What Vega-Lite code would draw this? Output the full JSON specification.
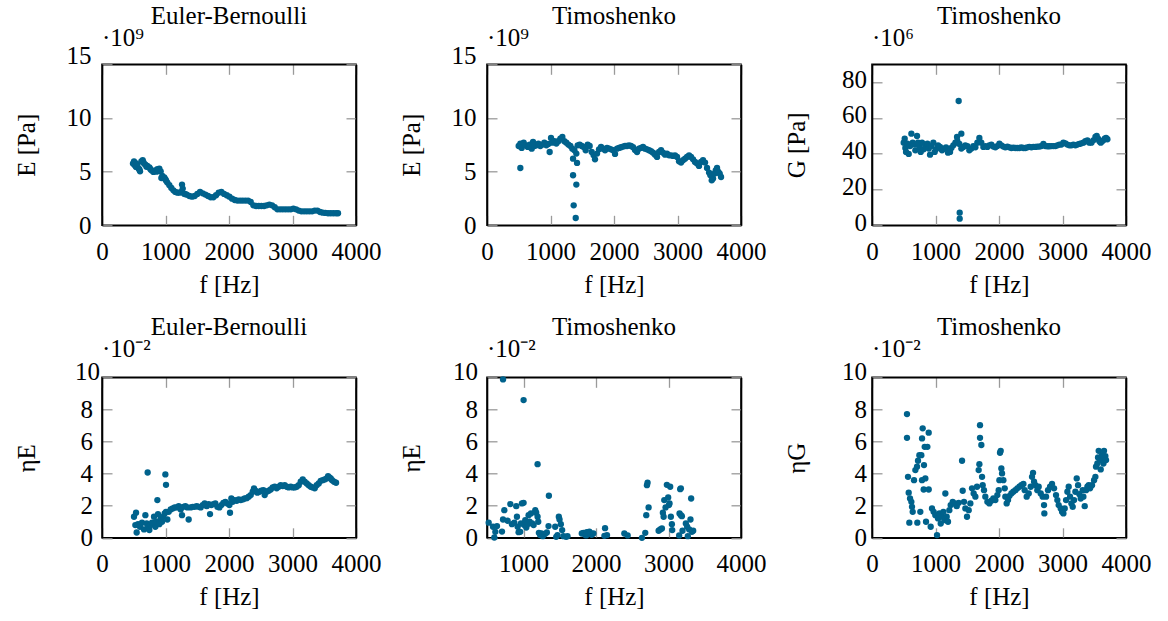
{
  "$schema": "https://vega.github.io/schema/vega-lite/v6.json",
  "padding": {"left": 13, "top": 3.3, "right": 5, "bottom": 5},
  "background": "white",
  "config": {
    "font": "Liberation Serif",
    "view": {"stroke": "#000000", "strokeWidth": 1.6, "strokeOpacity": 1},
    "axis": {
      "grid": false, "domain": true, "domainColor": "#000000", "domainWidth": 1.6, "domainOpacity": 1,
      "tickColor": "#9a9a9a", "tickWidth": 1.3, "tickSize": -10,
      "labelFont": "Liberation Serif", "titleFont": "Liberation Serif",
      "labelFontSize": 25, "titleFontSize": 25,
      "labelColor": "black", "titleColor": "black", "titleFontWeight": "normal",
      "labelFlush": false, "labelOverlap": false, "format": "d"
    },
    "axisX": {"labelBaseline": "alphabetic", "labelPadding": 44, "titleX": 127, "titleY": 67, "titleBaseline": "alphabetic", "titleAngle": 0},
    "axisY": {"labelPadding": 21, "titleX": -67.7, "titleY": 80.5, "titleBaseline": "alphabetic", "titleAngle": -90, "titleAlign": "center"},
    "title": {"fontSize": 25, "font": "Liberation Serif", "fontWeight": "normal", "anchor": "middle", "frame": "group", "offset": -3, "color": "black"},
    "circle": {"size": 40, "opacity": 1, "color": "#00628c"}
  },
  "datasets": {
    "ebE": [
      {"f":488,"E":5.75},{"f":504,"E":5.96},{"f":515,"E":5.59},{"f":530,"E":5.8},{"f":536,"E":5.44},{"f":557,"E":5.65},{"f":578,"E":5.28},{"f":590,"E":5.2},{"f":599,"E":5.03},{"f":620,"E":5.96},{"f":641,"E":6.06},{"f":650,"E":5.9},{"f":662,"E":5.75},{"f":683,"E":5.65},{"f":700,"E":5.45},{"f":714,"E":5.53},{"f":746,"E":5.40},{"f":760,"E":5.25},{"f":777,"E":5.12},{"f":809,"E":4.97},{"f":840,"E":5.12},{"f":860,"E":5.0},{"f":872,"E":5.22},{"f":890,"E":5.15},{"f":903,"E":5.28},{"f":924,"E":5.03},{"f":935,"E":4.41},{"f":950,"E":4.6},{"f":966,"E":4.41},{"f":980,"E":4.45},{"f":998,"E":4.29},{"f":1010,"E":4.15},{"f":1029,"E":3.98},{"f":1061,"E":3.73},{"f":1092,"E":3.48},{"f":1124,"E":3.26},{"f":1155,"E":3.11},{"f":1187,"E":3.04},{"f":1218,"E":3.04},{"f":1250,"E":3.11},{"f":1260,"E":3.79},{"f":1271,"E":3.42},{"f":1292,"E":2.95},{"f":1313,"E":2.9},{"f":1334,"E":2.86},{"f":1376,"E":2.73},{"f":1418,"E":2.67},{"f":1460,"E":2.73},{"f":1502,"E":2.92},{"f":1544,"E":3.11},{"f":1586,"E":2.98},{"f":1628,"E":2.86},{"f":1670,"E":2.73},{"f":1712,"E":2.61},{"f":1754,"E":2.61},{"f":1796,"E":2.80},{"f":1838,"E":3.04},{"f":1880,"E":3.11},{"f":1922,"E":2.92},{"f":1964,"E":2.80},{"f":2006,"E":2.67},{"f":2048,"E":2.48},{"f":2090,"E":2.36},{"f":2132,"E":2.30},{"f":2174,"E":2.30},{"f":2216,"E":2.30},{"f":2258,"E":2.30},{"f":2300,"E":2.30},{"f":2342,"E":2.17},{"f":2384,"E":1.86},{"f":2426,"E":1.80},{"f":2468,"E":1.80},{"f":2510,"E":1.80},{"f":2552,"E":1.80},{"f":2594,"E":1.86},{"f":2636,"E":1.93},{"f":2678,"E":1.86},{"f":2720,"E":1.68},{"f":2762,"E":1.49},{"f":2804,"E":1.49},{"f":2846,"E":1.49},{"f":2888,"E":1.49},{"f":2930,"E":1.49},{"f":2972,"E":1.49},{"f":3014,"E":1.55},{"f":3056,"E":1.49},{"f":3098,"E":1.37},{"f":3140,"E":1.30},{"f":3182,"E":1.30},{"f":3224,"E":1.30},{"f":3266,"E":1.30},{"f":3308,"E":1.30},{"f":3350,"E":1.37},{"f":3392,"E":1.37},{"f":3434,"E":1.24},{"f":3476,"E":1.18},{"f":3518,"E":1.15},{"f":3560,"E":1.12},{"f":3602,"E":1.12},{"f":3644,"E":1.12},{"f":3686,"E":1.12},{"f":3717,"E":1.12}
    ],
    "tiE": [
      {"f":525,"E":5.34},{"f":1355,"E":6.21},{"f":1418,"E":5.81},{"f":1355,"E":4.66},{"f":1407,"E":3.79},{"f":1365,"E":1.86},{"f":1397,"E":0.68},
      {"f":499,"E":7.39},{"f":525,"E":7.61},{"f":546,"E":7.21},{"f":578,"E":7.70},{"f":609,"E":7.45},{"f":641,"E":7.30},{"f":672,"E":7.52},{"f":704,"E":7.14},{"f":725,"E":7.77},{"f":746,"E":7.39},{"f":777,"E":7.45},{"f":809,"E":7.61},{"f":840,"E":7.39},{"f":872,"E":7.52},{"f":903,"E":7.70},{"f":935,"E":7.45},{"f":966,"E":7.58},{"f":987,"E":6.83},{"f":1008,"E":8.14},{"f":1029,"E":7.70},{"f":1061,"E":7.83},{"f":1092,"E":7.61},{"f":1124,"E":7.83},{"f":1155,"E":8.08},{"f":1187,"E":8.23},{"f":1218,"E":7.83},{"f":1250,"E":7.70},{"f":1281,"E":7.52},{"f":1313,"E":7.39},{"f":1344,"E":7.14},{"f":1376,"E":6.99},{"f":1407,"E":6.68},{"f":1428,"E":7.45},{"f":1460,"E":7.52},{"f":1491,"E":7.39},{"f":1523,"E":7.30},{"f":1554,"E":6.99},{"f":1586,"E":7.52},{"f":1617,"E":7.39},{"f":1649,"E":6.83},{"f":1680,"E":6.52},{"f":1701,"E":6.15},{"f":1733,"E":6.68},{"f":1764,"E":7.08},{"f":1796,"E":7.30},{"f":1827,"E":7.14},{"f":1859,"E":6.99},{"f":1890,"E":7.21},{"f":1922,"E":7.14},{"f":1953,"E":7.08},{"f":1985,"E":6.99},{"f":2016,"E":6.65},{"f":2048,"E":7.14},{"f":2079,"E":7.21},{"f":2111,"E":7.27},{"f":2142,"E":7.33},{"f":2174,"E":7.39},{"f":2205,"E":7.39},{"f":2237,"E":7.45},{"f":2268,"E":7.39},{"f":2300,"E":7.27},{"f":2331,"E":7.02},{"f":2363,"E":6.83},{"f":2394,"E":7.14},{"f":2426,"E":7.21},{"f":2457,"E":7.30},{"f":2489,"E":7.14},{"f":2520,"E":7.08},{"f":2552,"E":6.99},{"f":2583,"E":6.90},{"f":2615,"E":6.77},{"f":2646,"E":6.58},{"f":2678,"E":6.37},{"f":2709,"E":6.83},{"f":2741,"E":6.99},{"f":2772,"E":6.77},{"f":2804,"E":6.58},{"f":2835,"E":6.68},{"f":2867,"E":6.52},{"f":2898,"E":6.52},{"f":2930,"E":6.46},{"f":2961,"E":6.52},{"f":2993,"E":6.37},{"f":3024,"E":5.96},{"f":3056,"E":5.84},{"f":3087,"E":6.06},{"f":3119,"E":6.21},{"f":3150,"E":6.37},{"f":3182,"E":6.52},{"f":3213,"E":6.37},{"f":3245,"E":6.15},{"f":3276,"E":5.90},{"f":3308,"E":5.75},{"f":3339,"E":5.53},{"f":3371,"E":5.90},{"f":3402,"E":6.06},{"f":3434,"E":5.84},{"f":3465,"E":5.34},{"f":3497,"E":4.91},{"f":3518,"E":4.66},{"f":3539,"E":4.19},{"f":3560,"E":4.35},{"f":3581,"E":4.81},{"f":3602,"E":5.12},{"f":3623,"E":5.34},{"f":3644,"E":4.97},{"f":3665,"E":4.81},{"f":3686,"E":4.50}
    ],
    "tiG": [
      {"f":1365,"G":69.5},{"f":1407,"G":51.2},{"f":1339,"G":49.4},{"f":1381,"G":7.08},{"f":1381,"G":3.73},
      {"f":499,"G":46.2},{"f":515,"G":48.4},{"f":525,"G":43.2},{"f":536,"G":41.0},{"f":557,"G":45.7},{"f":578,"G":39.9},{"f":599,"G":44.3},{"f":620,"G":51.2},{"f":641,"G":46.2},{"f":672,"G":45.1},{"f":683,"G":41.9},{"f":709,"G":49.9},{"f":725,"G":46.2},{"f":746,"G":43.8},{"f":767,"G":41.0},{"f":788,"G":46.2},{"f":814,"G":42.5},{"f":840,"G":44.7},{"f":872,"G":45.7},{"f":893,"G":42.9},{"f":914,"G":39.5},{"f":935,"G":44.3},{"f":966,"G":46.2},{"f":987,"G":41.0},{"f":1008,"G":42.5},{"f":1040,"G":44.7},{"f":1071,"G":43.8},{"f":1103,"G":41.9},{"f":1134,"G":42.9},{"f":1166,"G":43.6},{"f":1197,"G":40.6},{"f":1229,"G":41.0},{"f":1250,"G":43.2},{"f":1281,"G":44.7},{"f":1313,"G":46.2},{"f":1344,"G":47.0},{"f":1376,"G":45.5},{"f":1407,"G":42.9},{"f":1439,"G":43.8},{"f":1470,"G":44.7},{"f":1502,"G":44.3},{"f":1533,"G":41.9},{"f":1565,"G":42.9},{"f":1596,"G":44.3},{"f":1628,"G":43.6},{"f":1659,"G":46.2},{"f":1691,"G":48.8},{"f":1722,"G":46.2},{"f":1754,"G":43.8},{"f":1785,"G":44.3},{"f":1817,"G":43.8},{"f":1848,"G":44.7},{"f":1880,"G":45.1},{"f":1911,"G":44.0},{"f":1943,"G":43.6},{"f":1974,"G":44.3},{"f":2006,"G":45.7},{"f":2037,"G":44.7},{"f":2069,"G":44.0},{"f":2100,"G":43.6},{"f":2132,"G":44.0},{"f":2163,"G":43.6},{"f":2195,"G":43.2},{"f":2226,"G":43.4},{"f":2258,"G":43.2},{"f":2289,"G":43.2},{"f":2321,"G":43.2},{"f":2352,"G":43.6},{"f":2384,"G":43.2},{"f":2415,"G":43.2},{"f":2447,"G":43.6},{"f":2478,"G":43.8},{"f":2510,"G":43.6},{"f":2541,"G":43.8},{"f":2573,"G":43.8},{"f":2604,"G":44.0},{"f":2636,"G":44.0},{"f":2667,"G":44.3},{"f":2699,"G":45.5},{"f":2730,"G":44.3},{"f":2762,"G":44.2},{"f":2793,"G":44.2},{"f":2825,"G":44.3},{"f":2856,"G":44.3},{"f":2888,"G":44.3},{"f":2919,"G":44.7},{"f":2951,"G":45.1},{"f":2982,"G":45.1},{"f":3014,"G":46.2},{"f":3045,"G":45.8},{"f":3077,"G":45.1},{"f":3108,"G":44.7},{"f":3140,"G":44.7},{"f":3171,"G":45.1},{"f":3203,"G":44.7},{"f":3234,"G":45.1},{"f":3266,"G":45.5},{"f":3297,"G":45.8},{"f":3329,"G":46.2},{"f":3360,"G":47.0},{"f":3392,"G":47.5},{"f":3423,"G":46.2},{"f":3455,"G":46.2},{"f":3486,"G":47.5},{"f":3518,"G":49.4},{"f":3539,"G":49.9},{"f":3560,"G":48.4},{"f":3581,"G":47.0},{"f":3602,"G":46.2},{"f":3623,"G":47.0},{"f":3644,"G":47.5},{"f":3665,"G":48.4},{"f":3686,"G":48.8},{"f":3707,"G":48.1}
    ],
    "ebEta": [
      {"f":719,"eta":4.07},{"f":998,"eta":3.95},{"f":1008,"eta":3.30},{"f":872,"eta":2.35},
      {"f":504,"eta":1.31},{"f":536,"eta":1.56},{"f":525,"eta":0.79},{"f":546,"eta":0.33},{"f":567,"eta":0.85},{"f":599,"eta":0.69},{"f":630,"eta":0.94},{"f":662,"eta":0.52},{"f":683,"eta":1.41},{"f":704,"eta":0.89},{"f":725,"eta":0.69},{"f":746,"eta":0.48},{"f":767,"eta":0.79},{"f":788,"eta":0.94},{"f":819,"eta":1.31},{"f":840,"eta":0.69},{"f":861,"eta":1.00},{"f":882,"eta":1.48},{"f":903,"eta":0.85},{"f":924,"eta":1.21},{"f":945,"eta":1.00},{"f":966,"eta":1.31},{"f":987,"eta":1.52},{"f":1008,"eta":1.62},{"f":1029,"eta":1.14},{"f":1050,"eta":1.62},{"f":1082,"eta":1.77},{"f":1113,"eta":1.83},{"f":1145,"eta":1.89},{"f":1176,"eta":1.89},{"f":1208,"eta":1.97},{"f":1239,"eta":1.77},{"f":1260,"eta":1.41},{"f":1281,"eta":1.93},{"f":1313,"eta":1.97},{"f":1344,"eta":1.89},{"f":1365,"eta":1.14},{"f":1397,"eta":1.89},{"f":1428,"eta":1.93},{"f":1460,"eta":1.93},{"f":1491,"eta":1.97},{"f":1523,"eta":1.93},{"f":1554,"eta":1.89},{"f":1586,"eta":2.04},{"f":1617,"eta":2.14},{"f":1649,"eta":1.97},{"f":1680,"eta":2.10},{"f":1701,"eta":1.48},{"f":1722,"eta":2.04},{"f":1754,"eta":2.10},{"f":1785,"eta":2.14},{"f":1817,"eta":1.93},{"f":1848,"eta":1.89},{"f":1880,"eta":2.04},{"f":1911,"eta":2.18},{"f":1943,"eta":2.24},{"f":1974,"eta":2.14},{"f":2006,"eta":2.04},{"f":2016,"eta":1.56},{"f":2037,"eta":2.45},{"f":2058,"eta":2.24},{"f":2090,"eta":2.35},{"f":2121,"eta":2.31},{"f":2153,"eta":2.39},{"f":2184,"eta":2.35},{"f":2216,"eta":2.39},{"f":2247,"eta":2.45},{"f":2279,"eta":2.47},{"f":2310,"eta":2.56},{"f":2342,"eta":2.66},{"f":2373,"eta":2.87},{"f":2394,"eta":3.08},{"f":2415,"eta":2.93},{"f":2447,"eta":2.81},{"f":2478,"eta":2.87},{"f":2510,"eta":2.93},{"f":2541,"eta":2.97},{"f":2562,"eta":2.66},{"f":2594,"eta":2.87},{"f":2625,"eta":2.93},{"f":2657,"eta":3.01},{"f":2688,"eta":3.14},{"f":2720,"eta":3.18},{"f":2751,"eta":3.08},{"f":2783,"eta":3.18},{"f":2814,"eta":3.28},{"f":2846,"eta":3.22},{"f":2877,"eta":3.28},{"f":2909,"eta":3.18},{"f":2940,"eta":3.14},{"f":2972,"eta":3.18},{"f":3003,"eta":3.14},{"f":3035,"eta":3.14},{"f":3066,"eta":3.18},{"f":3098,"eta":3.28},{"f":3129,"eta":3.49},{"f":3161,"eta":3.64},{"f":3192,"eta":3.49},{"f":3224,"eta":3.39},{"f":3255,"eta":3.28},{"f":3287,"eta":3.18},{"f":3318,"eta":3.14},{"f":3350,"eta":3.08},{"f":3381,"eta":3.28},{"f":3413,"eta":3.39},{"f":3444,"eta":3.55},{"f":3476,"eta":3.59},{"f":3507,"eta":3.64},{"f":3539,"eta":3.70},{"f":3560,"eta":3.84},{"f":3581,"eta":3.76},{"f":3602,"eta":3.70},{"f":3623,"eta":3.59},{"f":3654,"eta":3.49},{"f":3686,"eta":3.43}
    ],
    "tiEta": [
      {"f":716,"eta":9.87},{"f":1000,"eta":8.58},{"f":1193,"eta":4.59},{"f":1349,"eta":2.62},{"f":518,"eta":0.94},{"f":578,"eta":0.69},{"f":596,"eta":0.02},{"f":633,"eta":0.73},{"f":610,"eta":0.37},{"f":702,"eta":0.39},{"f":716,"eta":1.14},{"f":734,"eta":1.72},{"f":780,"eta":1.06},{"f":817,"eta":2.10},{"f":839,"eta":0.85},{"f":872,"eta":0.94},{"f":899,"eta":1.97},{"f":908,"eta":1.31},{"f":918,"eta":0.69},{"f":931,"eta":0.35},{"f":954,"eta":0.37},{"f":963,"eta":0.89},{"f":977,"eta":2.14},{"f":1000,"eta":2.18},{"f":1009,"eta":0.79},{"f":1023,"eta":1.10},{"f":1037,"eta":0.64},{"f":1055,"eta":0.85},{"f":1069,"eta":1.41},{"f":1083,"eta":1.00},{"f":1101,"eta":1.52},{"f":1119,"eta":0.89},{"f":1138,"eta":0.79},{"f":1161,"eta":1.72},{"f":1174,"eta":1.56},{"f":1193,"eta":1.31},{"f":1202,"eta":1.00},{"f":1211,"eta":0.31},{"f":1229,"eta":0.17},{"f":1248,"eta":0.27},{"f":1266,"eta":0.10},{"f":1294,"eta":0.23},{"f":1321,"eta":0.33},{"f":1344,"eta":0.73},{"f":1436,"eta":0.69},{"f":1450,"eta":0.06},{"f":1468,"eta":0.17},{"f":1486,"eta":1.31},{"f":1496,"eta":1.14},{"f":1514,"eta":0.85},{"f":1532,"eta":0.48},{"f":1550,"eta":0.10},{"f":1587,"eta":0.06},{"f":1606,"eta":0.10},{"f":1803,"eta":0.27},{"f":1826,"eta":0.31},{"f":1849,"eta":0.19},{"f":1872,"eta":0.35},{"f":1895,"eta":0.23},{"f":1917,"eta":0.31},{"f":1940,"eta":0.19},{"f":1863,"eta":0.15},{"f":1908,"eta":0.39},{"f":1963,"eta":0.27},{"f":2124,"eta":0.60},{"f":2115,"eta":0.12},{"f":2151,"eta":0.17},{"f":2390,"eta":0.27},{"f":2436,"eta":0.15},{"f":2633,"eta":0.0},{"f":2679,"eta":0.31},{"f":2693,"eta":1.41},{"f":2702,"eta":3.28},{"f":2711,"eta":3.43},{"f":2725,"eta":1.89},{"f":2863,"eta":0.44},{"f":2886,"eta":0.52},{"f":2909,"eta":0.58},{"f":2922,"eta":1.56},{"f":2932,"eta":1.31},{"f":2941,"eta":2.35},{"f":2959,"eta":1.89},{"f":2977,"eta":3.30},{"f":2995,"eta":2.51},{"f":3005,"eta":2.04},{"f":3014,"eta":2.14},{"f":3032,"eta":1.31},{"f":3046,"eta":0.85},{"f":3051,"eta":0.48},{"f":3023,"eta":3.18},{"f":3161,"eta":3.03},{"f":3170,"eta":3.08},{"f":3152,"eta":1.52},{"f":3170,"eta":1.41},{"f":3184,"eta":1.35},{"f":3147,"eta":0.15},{"f":3193,"eta":0.44},{"f":3239,"eta":0.89},{"f":3257,"eta":0.69},{"f":3266,"eta":0.10},{"f":3285,"eta":0.52},{"f":3303,"eta":1.14},{"f":3312,"eta":2.45},{"f":3322,"eta":0.37},{"f":3340,"eta":0.44}
    ],
    "tiEtaG": [
      {"f":551,"eta":7.71},{"f":551,"eta":6.23},{"f":567,"eta":3.80},{"f":578,"eta":2.81},{"f":599,"eta":2.45},{"f":588,"eta":0.94},{"f":620,"eta":2.24},{"f":630,"eta":1.93},{"f":641,"eta":1.62},{"f":662,"eta":3.59},{"f":683,"eta":4.22},{"f":709,"eta":4.43},{"f":725,"eta":4.80},{"f":746,"eta":5.15},{"f":777,"eta":5.15},{"f":798,"eta":6.82},{"f":788,"eta":6.19},{"f":819,"eta":4.53},{"f":840,"eta":3.70},{"f":830,"eta":5.67},{"f":851,"eta":1.00},{"f":872,"eta":5.67},{"f":893,"eta":6.55},{"f":714,"eta":0.94},{"f":761,"eta":1.62},{"f":788,"eta":3.59},{"f":814,"eta":3.01},{"f":893,"eta":3.01},{"f":924,"eta":0.69},{"f":945,"eta":1.83},{"f":971,"eta":1.62},{"f":998,"eta":1.41},{"f":1024,"eta":0.17},{"f":1040,"eta":1.21},{"f":1061,"eta":1.52},{"f":1082,"eta":0.89},{"f":1103,"eta":1.31},{"f":1124,"eta":1.62},{"f":1145,"eta":1.10},{"f":1155,"eta":2.76},{"f":1176,"eta":1.31},{"f":1197,"eta":1.00},{"f":1218,"eta":1.72},{"f":1239,"eta":2.04},{"f":1271,"eta":2.24},{"f":1302,"eta":2.14},{"f":1334,"eta":1.97},{"f":1365,"eta":2.18},{"f":1418,"eta":4.80},{"f":1428,"eta":2.93},{"f":1449,"eta":2.24},{"f":1470,"eta":1.83},{"f":1496,"eta":1.31},{"f":1523,"eta":1.72},{"f":1549,"eta":2.14},{"f":1575,"eta":3.08},{"f":1601,"eta":2.76},{"f":1628,"eta":2.56},{"f":1654,"eta":3.18},{"f":1680,"eta":4.22},{"f":1691,"eta":4.59},{"f":1701,"eta":7.02},{"f":1701,"eta":6.23},{"f":1722,"eta":5.78},{"f":1733,"eta":3.80},{"f":1743,"eta":3.28},{"f":1764,"eta":2.97},{"f":1785,"eta":2.56},{"f":1817,"eta":2.24},{"f":1848,"eta":2.14},{"f":1880,"eta":2.31},{"f":1911,"eta":2.45},{"f":1943,"eta":2.35},{"f":1974,"eta":2.66},{"f":1995,"eta":2.97},{"f":2006,"eta":3.59},{"f":2016,"eta":5.30},{"f":2027,"eta":5.42},{"f":2037,"eta":4.32},{"f":2048,"eta":4.01},{"f":2069,"eta":3.59},{"f":2090,"eta":3.08},{"f":2100,"eta":2.56},{"f":2121,"eta":2.14},{"f":2142,"eta":2.35},{"f":2163,"eta":2.60},{"f":2195,"eta":2.76},{"f":2226,"eta":2.87},{"f":2258,"eta":2.97},{"f":2289,"eta":3.08},{"f":2321,"eta":3.18},{"f":2352,"eta":3.28},{"f":2384,"eta":3.35},{"f":2405,"eta":2.97},{"f":2436,"eta":2.56},{"f":2468,"eta":2.76},{"f":2499,"eta":3.18},{"f":2520,"eta":3.80},{"f":2536,"eta":4.05},{"f":2552,"eta":3.49},{"f":2573,"eta":3.28},{"f":2604,"eta":2.97},{"f":2625,"eta":3.18},{"f":2657,"eta":2.76},{"f":2688,"eta":2.56},{"f":2709,"eta":2.04},{"f":2714,"eta":1.52},{"f":2741,"eta":2.56},{"f":2772,"eta":2.97},{"f":2804,"eta":3.18},{"f":2835,"eta":3.35},{"f":2867,"eta":3.08},{"f":2898,"eta":2.66},{"f":2919,"eta":2.35},{"f":2940,"eta":2.04},{"f":2972,"eta":1.83},{"f":2993,"eta":1.62},{"f":3014,"eta":1.52},{"f":3035,"eta":1.83},{"f":3056,"eta":2.35},{"f":3077,"eta":2.87},{"f":3098,"eta":3.18},{"f":3119,"eta":2.56},{"f":3140,"eta":2.14},{"f":3161,"eta":1.93},{"f":3182,"eta":2.35},{"f":3203,"eta":2.87},{"f":3224,"eta":3.70},{"f":3245,"eta":3.28},{"f":3266,"eta":2.72},{"f":3287,"eta":2.45},{"f":3318,"eta":2.97},{"f":3329,"eta":2.56},{"f":3350,"eta":1.97},{"f":3371,"eta":2.97},{"f":3392,"eta":3.18},{"f":3413,"eta":3.28},{"f":3434,"eta":3.08},{"f":3465,"eta":3.28},{"f":3497,"eta":3.59},{"f":3518,"eta":3.80},{"f":3528,"eta":4.43},{"f":3549,"eta":4.63},{"f":3560,"eta":5.01},{"f":3570,"eta":5.42},{"f":3591,"eta":4.84},{"f":3602,"eta":4.26},{"f":3623,"eta":5.15},{"f":3644,"eta":4.63},{"f":3654,"eta":5.42},{"f":3665,"eta":4.95},{"f":3675,"eta":5.09},{"f":3686,"eta":4.84}
    ]
  },
  "columns": 3,
  "spacing": {"row": 152, "column": 131},
  "bounds": "flush",
  "concat": [
    {
      "width": 254, "height": 161,
      "title": {"text": "Euler-Bernoulli"},
      "layer": [
        {"data": {"name": "ebE"}, "mark": {"type": "circle"},
         "encoding": {
           "x": {"field": "f", "type": "quantitative", "scale": {"domain": [0, 4000], "nice": false, "zero": false}, "axis": {"orient": "bottom", "values": [0, 1000, 2000, 3000, 4000], "title": "f [Hz]"}},
           "y": {"field": "E", "type": "quantitative", "scale": {"domain": [0, 15], "nice": false}, "axis": {"orient": "left", "values": [0, 5, 10, 15], "title": "E [Pa]", "labelOffset": {"condition": {"test": "datum.value == 15", "value": -9}, "value": 0}}}
         }},
        {"data": {"values": [{"s": "·10⁹"}]},
         "mark": {"type": "text", "align": "left", "baseline": "alphabetic", "dy": -18, "fontSize": 25, "font": "Liberation Serif", "color": "black"},
         "encoding": {
           "text": {"field": "s"},
           "x": {"datum": 0, "type": "quantitative", "axis": {"orient": "top", "values": [0, 1000, 2000, 3000, 4000], "labels": false, "title": null}},
           "y": {"datum": 15, "type": "quantitative", "axis": {"orient": "right", "values": [0, 5, 10, 15], "labels": false, "title": null}}
         }}
      ],
      "resolve": {"axis": {"x": "independent", "y": "independent"}}
    },
    {
      "width": 254, "height": 161,
      "title": {"text": "Timoshenko"},
      "layer": [
        {"data": {"name": "tiE"}, "mark": {"type": "circle"},
         "encoding": {
           "x": {"field": "f", "type": "quantitative", "scale": {"domain": [0, 4000], "nice": false, "zero": false}, "axis": {"orient": "bottom", "values": [0, 1000, 2000, 3000, 4000], "title": "f [Hz]"}},
           "y": {"field": "E", "type": "quantitative", "scale": {"domain": [0, 15], "nice": false}, "axis": {"orient": "left", "values": [0, 5, 10, 15], "title": "E [Pa]", "labelOffset": {"condition": {"test": "datum.value == 15", "value": -9}, "value": 0}}}
         }},
        {"data": {"values": [{"s": "·10⁹"}]},
         "mark": {"type": "text", "align": "left", "baseline": "alphabetic", "dy": -18, "fontSize": 25, "font": "Liberation Serif", "color": "black"},
         "encoding": {
           "text": {"field": "s"},
           "x": {"datum": 0, "type": "quantitative", "axis": {"orient": "top", "values": [0, 1000, 2000, 3000, 4000], "labels": false, "title": null}},
           "y": {"datum": 15, "type": "quantitative", "axis": {"orient": "right", "values": [0, 5, 10, 15], "labels": false, "title": null}}
         }}
      ],
      "resolve": {"axis": {"x": "independent", "y": "independent"}}
    },
    {
      "width": 254, "height": 161,
      "title": {"text": "Timoshenko"},
      "layer": [
        {"data": {"name": "tiG"}, "mark": {"type": "circle"},
         "encoding": {
           "x": {"field": "f", "type": "quantitative", "scale": {"domain": [0, 4000], "nice": false, "zero": false}, "axis": {"orient": "bottom", "values": [0, 1000, 2000, 3000, 4000], "title": "f [Hz]"}},
           "y": {"field": "G", "type": "quantitative", "scale": {"domain": [0, 90], "nice": false}, "axis": {"orient": "left", "values": [0, 20, 40, 60, 80], "title": "G [Pa]", "labelOffset": -3, "labelPadding": 15.5}}
         }},
        {"data": {"values": [{"s": "·10⁶"}]},
         "mark": {"type": "text", "align": "left", "baseline": "alphabetic", "dy": -18, "fontSize": 25, "font": "Liberation Serif", "color": "black"},
         "encoding": {
           "text": {"field": "s"},
           "x": {"datum": 0, "type": "quantitative", "axis": {"orient": "top", "values": [0, 1000, 2000, 3000, 4000], "labels": false, "title": null}},
           "y": {"datum": 90, "type": "quantitative", "axis": {"orient": "right", "values": [0, 20, 40, 60, 80], "labels": false, "title": null}}
         }}
      ],
      "resolve": {"axis": {"x": "independent", "y": "independent"}}
    },
    {
      "width": 254, "height": 160.5,
      "title": {"text": "Euler-Bernoulli"},
      "layer": [
        {"data": {"name": "ebEta"}, "mark": {"type": "circle"},
         "encoding": {
           "x": {"field": "f", "type": "quantitative", "scale": {"domain": [0, 4000], "nice": false, "zero": false}, "axis": {"orient": "bottom", "values": [0, 1000, 2000, 3000, 4000], "title": "f [Hz]"}},
           "y": {"field": "eta", "type": "quantitative", "scale": {"domain": [0, 10], "nice": false}, "axis": {"orient": "left", "values": [0, 2, 4, 6, 8, 10], "title": "ηE", "labelOffset": {"condition": {"test": "datum.value == 10", "value": -6}, "value": 0}, "labelPadding": {"condition": {"test": "datum.value == 10", "value": 12.5}, "value": 19.5}}}
         }},
        {"data": {"values": [{"s": "·10⁻²"}]},
         "mark": {"type": "text", "align": "left", "baseline": "alphabetic", "dy": -20, "fontSize": 25, "font": "Liberation Serif", "color": "black"},
         "encoding": {
           "text": {"field": "s"},
           "x": {"datum": 0, "type": "quantitative", "axis": {"orient": "top", "values": [0, 1000, 2000, 3000, 4000], "labels": false, "title": null}},
           "y": {"datum": 10, "type": "quantitative", "axis": {"orient": "right", "values": [0, 2, 4, 6, 8, 10], "labels": false, "title": null}}
         }}
      ],
      "resolve": {"axis": {"x": "independent", "y": "independent"}}
    },
    {
      "width": 254, "height": 160.5,
      "title": {"text": "Timoshenko"},
      "layer": [
        {"data": {"name": "tiEta"}, "mark": {"type": "circle"},
         "encoding": {
           "x": {"field": "f", "type": "quantitative", "scale": {"domain": [495, 4000], "nice": false, "zero": false}, "axis": {"orient": "bottom", "values": [1000, 2000, 3000, 4000], "title": "f [Hz]"}},
           "y": {"field": "eta", "type": "quantitative", "scale": {"domain": [0, 10], "nice": false}, "axis": {"orient": "left", "values": [0, 2, 4, 6, 8, 10], "title": "ηE", "labelOffset": {"condition": {"test": "datum.value == 10", "value": -6}, "value": 0}, "labelPadding": 19.5}}
         }},
        {"data": {"values": [{"s": "·10⁻²"}]},
         "mark": {"type": "text", "align": "left", "baseline": "alphabetic", "dy": -20, "fontSize": 25, "font": "Liberation Serif", "color": "black"},
         "encoding": {
           "text": {"field": "s"},
           "x": {"datum": 495, "type": "quantitative", "axis": {"orient": "top", "values": [1000, 2000, 3000, 4000], "labels": false, "title": null}},
           "y": {"datum": 10, "type": "quantitative", "axis": {"orient": "right", "values": [0, 2, 4, 6, 8, 10], "labels": false, "title": null}}
         }}
      ],
      "resolve": {"axis": {"x": "independent", "y": "independent"}}
    },
    {
      "width": 254, "height": 160.5,
      "title": {"text": "Timoshenko"},
      "layer": [
        {"data": {"name": "tiEtaG"}, "mark": {"type": "circle"},
         "encoding": {
           "x": {"field": "f", "type": "quantitative", "scale": {"domain": [0, 4000], "nice": false, "zero": false}, "axis": {"orient": "bottom", "values": [0, 1000, 2000, 3000, 4000], "title": "f [Hz]"}},
           "y": {"field": "eta", "type": "quantitative", "scale": {"domain": [0, 10], "nice": false}, "axis": {"orient": "left", "values": [0, 2, 4, 6, 8, 10], "title": "ηG", "labelOffset": {"condition": {"test": "datum.value == 10", "value": -5.5}, "value": 0}, "labelPadding": 15.5}}
         }},
        {"data": {"values": [{"s": "·10⁻²"}]},
         "mark": {"type": "text", "align": "left", "baseline": "alphabetic", "dy": -20, "fontSize": 25, "font": "Liberation Serif", "color": "black"},
         "encoding": {
           "text": {"field": "s"},
           "x": {"datum": 0, "type": "quantitative", "axis": {"orient": "top", "values": [0, 1000, 2000, 3000, 4000], "labels": false, "title": null}},
           "y": {"datum": 10, "type": "quantitative", "axis": {"orient": "right", "values": [0, 2, 4, 6, 8, 10], "labels": false, "title": null}}
         }}
      ],
      "resolve": {"axis": {"x": "independent", "y": "independent"}}
    }
  ]
}
